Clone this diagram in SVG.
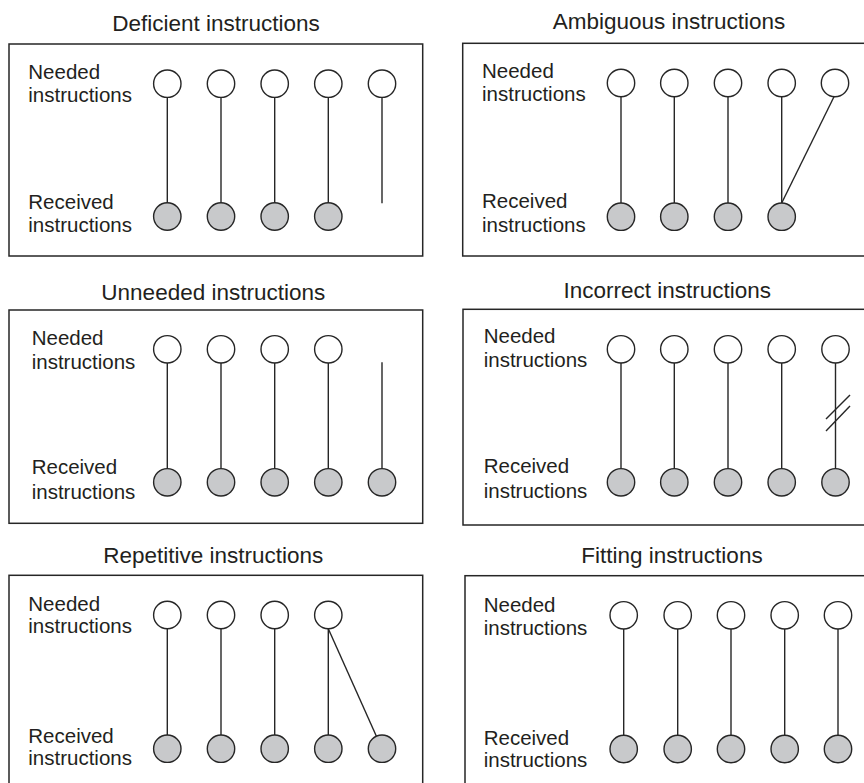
<svg xmlns="http://www.w3.org/2000/svg" width="864" height="783" viewBox="0 0 864 783">
<style>
.bg{fill:#fff}
.box{fill:none;stroke:#262626;stroke-width:1.5}
.need{fill:#fff;stroke:#262626;stroke-width:1.4}
.recv{fill:#c8c9cb;stroke:#262626;stroke-width:1.4}
.ln{stroke:#262626;stroke-width:1.4;fill:none}
text{font-family:"Liberation Sans",Arial,sans-serif;fill:#231f20}
.title{font-size:22.5px;text-anchor:middle}
.lbl{font-size:20.5px}
</style>
<rect class="bg" x="0" y="0" width="864" height="783"/>

<g id="panels">
<g id="panel-deficient">
<rect class="box" x="9" y="44" width="413.7" height="212"/>
<text class="title" x="216" y="30.7">Deficient instructions</text>
<text class="lbl" x="28.3" y="79">Needed</text>
<text class="lbl" x="28.3" y="102.3">instructions</text>
<text class="lbl" x="28.3" y="209">Received</text>
<text class="lbl" x="28.3" y="232.3">instructions</text>
</g>
<g id="panel-ambiguous">
<rect class="box" x="462.7" y="43.3" width="410" height="212.7"/>
<text class="title" x="669" y="29.3">Ambiguous instructions</text>
<text class="lbl" x="482" y="78.3">Needed</text>
<text class="lbl" x="482" y="101">instructions</text>
<text class="lbl" x="482" y="208.3">Received</text>
<text class="lbl" x="482" y="231.7">instructions</text>
</g>
<g id="panel-unneeded">
<rect class="box" x="9" y="310" width="413.7" height="213.3"/>
<text class="title" x="213.3" y="300">Unneeded instructions</text>
<text class="lbl" x="31.7" y="345">Needed</text>
<text class="lbl" x="31.7" y="369">instructions</text>
<text class="lbl" x="31.7" y="474">Received</text>
<text class="lbl" x="31.7" y="499">instructions</text>
</g>
<g id="panel-incorrect">
<rect class="box" x="463" y="309.3" width="410" height="215.7"/>
<text class="title" x="667.3" y="298.3">Incorrect instructions</text>
<text class="lbl" x="483.7" y="343.3">Needed</text>
<text class="lbl" x="483.7" y="367.3">instructions</text>
<text class="lbl" x="483.7" y="473.3">Received</text>
<text class="lbl" x="483.7" y="497.7">instructions</text>
</g>
<g id="panel-repetitive">
<rect class="box" x="9" y="575.3" width="413.7" height="220"/>
<text class="title" x="213.3" y="563.3">Repetitive instructions</text>
<text class="lbl" x="28.3" y="611">Needed</text>
<text class="lbl" x="28.3" y="633.3">instructions</text>
<text class="lbl" x="28.3" y="743.3">Received</text>
<text class="lbl" x="28.3" y="765">instructions</text>
</g>
<g id="panel-fitting">
<rect class="box" x="465" y="575.7" width="410" height="220"/>
<text class="title" x="672" y="563.3">Fitting instructions</text>
<text class="lbl" x="483.7" y="611.7">Needed</text>
<text class="lbl" x="483.7" y="635">instructions</text>
<text class="lbl" x="483.7" y="745">Received</text>
<text class="lbl" x="483.7" y="766.7">instructions</text>
</g>
</g>

<g id="connectors">
<!-- deficient -->
<line class="ln" x1="167.3" y1="97.4" x2="167.3" y2="202.8"/>
<line class="ln" x1="221" y1="97.4" x2="221" y2="202.8"/>
<line class="ln" x1="274.7" y1="97.4" x2="274.7" y2="202.8"/>
<line class="ln" x1="328.3" y1="97.4" x2="328.3" y2="202.8"/>
<line class="ln" x1="382" y1="97.4" x2="382" y2="203.3"/>
<!-- ambiguous -->
<line class="ln" x1="621" y1="96.7" x2="621" y2="203"/>
<line class="ln" x1="674.3" y1="96.7" x2="674.3" y2="203"/>
<line class="ln" x1="728" y1="96.7" x2="728" y2="203"/>
<line class="ln" x1="781.7" y1="96.7" x2="781.7" y2="203"/>
<line class="ln" x1="834" y1="96.7" x2="781.7" y2="203"/>
<!-- unneeded -->
<line class="ln" x1="167.3" y1="363" x2="167.3" y2="468.6"/>
<line class="ln" x1="221" y1="363" x2="221" y2="468.6"/>
<line class="ln" x1="274.7" y1="363" x2="274.7" y2="468.6"/>
<line class="ln" x1="328.3" y1="363" x2="328.3" y2="468.6"/>
<line class="ln" x1="382" y1="362.3" x2="382" y2="468.6"/>
<!-- incorrect -->
<line class="ln" x1="621" y1="363" x2="621" y2="468.6"/>
<line class="ln" x1="674.3" y1="363" x2="674.3" y2="468.6"/>
<line class="ln" x1="728" y1="363" x2="728" y2="468.6"/>
<line class="ln" x1="781.7" y1="363" x2="781.7" y2="468.6"/>
<line class="ln" x1="835.5" y1="363" x2="835.5" y2="468.6"/>
<line class="ln" x1="826" y1="419" x2="850" y2="395"/>
<line class="ln" x1="826" y1="431" x2="850" y2="406"/>
<!-- repetitive -->
<line class="ln" x1="167.3" y1="628.7" x2="167.3" y2="735"/>
<line class="ln" x1="221" y1="628.7" x2="221" y2="735"/>
<line class="ln" x1="274.7" y1="628.7" x2="274.7" y2="735"/>
<line class="ln" x1="328.3" y1="628.7" x2="328.3" y2="735"/>
<line class="ln" x1="328.3" y1="628.7" x2="376.4" y2="736.2"/>
<!-- fitting -->
<line class="ln" x1="623.7" y1="629" x2="623.7" y2="735.3"/>
<line class="ln" x1="677.7" y1="629" x2="677.7" y2="735.3"/>
<line class="ln" x1="731" y1="629" x2="731" y2="735.3"/>
<line class="ln" x1="784.7" y1="629" x2="784.7" y2="735.3"/>
<line class="ln" x1="838" y1="629" x2="838" y2="735.3"/>
</g>

<g id="nodes">
<!-- deficient -->
<g id="def-n1"><circle class="need" cx="167.3" cy="83.7" r="13.7"/></g>
<g id="def-n2"><circle class="need" cx="221" cy="83.7" r="13.7"/></g>
<g id="def-n3"><circle class="need" cx="274.7" cy="83.7" r="13.7"/></g>
<g id="def-n4"><circle class="need" cx="328.3" cy="83.7" r="13.7"/></g>
<g id="def-n5"><circle class="need" cx="382" cy="83.7" r="13.7"/></g>
<g id="def-r1"><circle class="recv" cx="167.3" cy="216.5" r="13.7"/></g>
<g id="def-r2"><circle class="recv" cx="221" cy="216.5" r="13.7"/></g>
<g id="def-r3"><circle class="recv" cx="274.7" cy="216.5" r="13.7"/></g>
<g id="def-r4"><circle class="recv" cx="328.3" cy="216.5" r="13.7"/></g>
<!-- ambiguous -->
<g id="amb-n1"><circle class="need" cx="621" cy="83" r="13.7"/></g>
<g id="amb-n2"><circle class="need" cx="674.3" cy="83" r="13.7"/></g>
<g id="amb-n3"><circle class="need" cx="728" cy="83" r="13.7"/></g>
<g id="amb-n4"><circle class="need" cx="781.7" cy="83" r="13.7"/></g>
<g id="amb-n5"><circle class="need" cx="835" cy="83" r="13.7"/></g>
<g id="amb-r1"><circle class="recv" cx="621" cy="216.7" r="13.7"/></g>
<g id="amb-r2"><circle class="recv" cx="674.3" cy="216.7" r="13.7"/></g>
<g id="amb-r3"><circle class="recv" cx="728" cy="216.7" r="13.7"/></g>
<g id="amb-r4"><circle class="recv" cx="781.7" cy="216.7" r="13.7"/></g>
<!-- unneeded -->
<g id="unn-n1"><circle class="need" cx="167.3" cy="349.3" r="13.7"/></g>
<g id="unn-n2"><circle class="need" cx="221" cy="349.3" r="13.7"/></g>
<g id="unn-n3"><circle class="need" cx="274.7" cy="349.3" r="13.7"/></g>
<g id="unn-n4"><circle class="need" cx="328.3" cy="349.3" r="13.7"/></g>
<g id="unn-r1"><circle class="recv" cx="167.3" cy="482.3" r="13.7"/></g>
<g id="unn-r2"><circle class="recv" cx="221" cy="482.3" r="13.7"/></g>
<g id="unn-r3"><circle class="recv" cx="274.7" cy="482.3" r="13.7"/></g>
<g id="unn-r4"><circle class="recv" cx="328.3" cy="482.3" r="13.7"/></g>
<g id="unn-r5"><circle class="recv" cx="382" cy="482.3" r="13.7"/></g>
<!-- incorrect -->
<g id="inc-n1"><circle class="need" cx="621" cy="349.3" r="13.7"/></g>
<g id="inc-n2"><circle class="need" cx="674.3" cy="349.3" r="13.7"/></g>
<g id="inc-n3"><circle class="need" cx="728" cy="349.3" r="13.7"/></g>
<g id="inc-n4"><circle class="need" cx="781.7" cy="349.3" r="13.7"/></g>
<g id="inc-n5"><circle class="need" cx="835.5" cy="349.3" r="13.7"/></g>
<g id="inc-r1"><circle class="recv" cx="621" cy="482.3" r="13.7"/></g>
<g id="inc-r2"><circle class="recv" cx="674.3" cy="482.3" r="13.7"/></g>
<g id="inc-r3"><circle class="recv" cx="728" cy="482.3" r="13.7"/></g>
<g id="inc-r4"><circle class="recv" cx="781.7" cy="482.3" r="13.7"/></g>
<g id="inc-r5"><circle class="recv" cx="835.5" cy="482.3" r="13.7"/></g>
<!-- repetitive -->
<g id="rep-n1"><circle class="need" cx="167.3" cy="615" r="13.7"/></g>
<g id="rep-n2"><circle class="need" cx="221" cy="615" r="13.7"/></g>
<g id="rep-n3"><circle class="need" cx="274.7" cy="615" r="13.7"/></g>
<g id="rep-n4"><circle class="need" cx="328.3" cy="615" r="13.7"/></g>
<g id="rep-r1"><circle class="recv" cx="167.3" cy="748.7" r="13.7"/></g>
<g id="rep-r2"><circle class="recv" cx="221" cy="748.7" r="13.7"/></g>
<g id="rep-r3"><circle class="recv" cx="274.7" cy="748.7" r="13.7"/></g>
<g id="rep-r4"><circle class="recv" cx="328.3" cy="748.7" r="13.7"/></g>
<g id="rep-r5"><circle class="recv" cx="382" cy="748.7" r="13.7"/></g>
<!-- fitting -->
<g id="fit-n1"><circle class="need" cx="623.7" cy="615.3" r="13.7"/></g>
<g id="fit-n2"><circle class="need" cx="677.7" cy="615.3" r="13.7"/></g>
<g id="fit-n3"><circle class="need" cx="731" cy="615.3" r="13.7"/></g>
<g id="fit-n4"><circle class="need" cx="784.7" cy="615.3" r="13.7"/></g>
<g id="fit-n5"><circle class="need" cx="838" cy="615.3" r="13.7"/></g>
<g id="fit-r1"><circle class="recv" cx="623.7" cy="749" r="13.7"/></g>
<g id="fit-r2"><circle class="recv" cx="677.7" cy="749" r="13.7"/></g>
<g id="fit-r3"><circle class="recv" cx="731" cy="749" r="13.7"/></g>
<g id="fit-r4"><circle class="recv" cx="784.7" cy="749" r="13.7"/></g>
<g id="fit-r5"><circle class="recv" cx="838" cy="749" r="13.7"/></g>
</g>
</svg>
